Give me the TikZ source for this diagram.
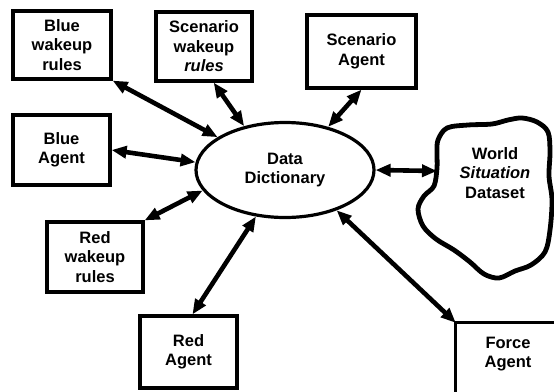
\documentclass[tikz,border=0pt]{standalone}
\usepackage{fontspec}
\setmainfont{Liberation Sans}
\usetikzlibrary{arrows.meta,shapes.geometric,calc}
\begin{document}
\begin{tikzpicture}[x=1pt,y=-1pt,
  lbl/.style={font=\bfseries\fontsize{16.5}{19.5}\selectfont, align=center},
  box/.style={lbl, draw, line width=3.2pt, inner sep=0pt},
  arr/.style={line width=4.6pt, {Triangle[length=15pt,width=12pt]}-{Triangle[length=15pt,width=12pt]}}]
\useasboundingbox (0,0) rectangle (554,391);
\clip (0,0) rectangle (554,391);
\fill[white] (0,0) rectangle (554,391);
% boxes
\node[box, minimum width=98pt, minimum height=68pt] (bwr) at (62,45) {Blue\\wakeup\\rules};
\node[box, minimum width=96pt, minimum height=69pt] (swr) at (204,46.5) {Scenario\\wakeup\\\textit{rules}};
\node[box, minimum width=109pt, minimum height=73pt] (sa) at (361.5,51.5) {Scenario\\Agent};
\node[box, minimum width=97pt, minimum height=70pt] (ba) at (61.5,150) {Blue\\Agent};
\node[box, minimum width=96pt, minimum height=70pt] (rwr) at (95,257) {Red\\wakeup\\rules};
\node[box, minimum width=97pt, minimum height=72pt] (ra) at (188.5,352) {Red\\Agent};
\node[lbl, minimum width=104pt, minimum height=62pt, inner sep=0pt] (fa) at (508,354) {Force\\Agent};
\draw[line width=3.2pt] ($(fa.south west)+(0,20)$) |- ($(fa.north east)+(20,0)$);
% data dictionary
\node[lbl, draw, ellipse, line width=3.2pt, minimum width=178pt, minimum height=95pt, inner sep=0pt] (dd) at (285,170) {Data\\Dictionary};
% cloud
\draw[line width=4.8pt, line join=round] plot[smooth cycle, tension=0.55] coordinates {
 (438,140) (447,128) (468,125) (492,124) (508,120) (522,118) (537,122) (548,132)
 (550,152) (549,176) (552,200) (550,230) (545,252) (531,265) (515,271) (499,278)
 (484,274) (470,262) (454,250) (436,239) (423,226) (418,209) (424,196) (434,186)
 (437,168) (437,153)};
\node[lbl] (wsd) at (495,173) {World\\\textit{Situation}\\Dataset};
\coordinate (cloudw) at (437,171);
% connectors
\draw[arr] (bwr.south east) -- (dd.154);
\draw[arr] (swr.-75) -- (dd.133);
\draw[arr] (sa.south) -- (dd.45);
\draw[arr] (ba.east) -- (dd.175);
\draw[arr] (dd.east) -- (cloudw);
\draw[arr] (rwr.north east) -- (dd.-166);
\draw[arr] (ra.84) -- (dd.-122);
\draw[arr] (fa.north west) -- (dd.-38);
\end{tikzpicture}
\end{document}
